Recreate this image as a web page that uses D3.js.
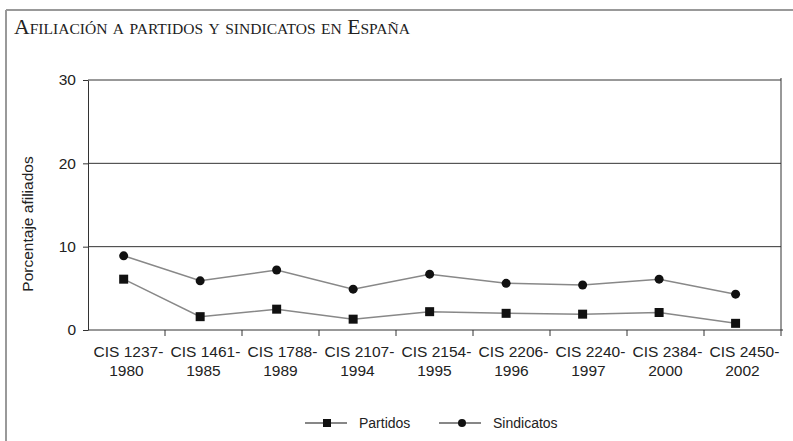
<!DOCTYPE html>
<html>
<head>
<meta charset="utf-8">
<script src="https://cdn.jsdelivr.net/npm/d3@7"></script>
<style>
  body { margin: 0; background: #fff; }
  svg { display: block; }
</style>
</head>
<body>
<svg id="chart" width="793" height="441"></svg>
<script>
const categories = ['CIS 1237-1980', 'CIS 1461-1985', 'CIS 1788-1989', 'CIS 2107-1994', 'CIS 2154-1995',
    'CIS 2206-1996', 'CIS 2240-1997', 'CIS 2384-2000', 'CIS 2450-2002'];
const partidos = [6.1, 1.6, 2.5, 1.3, 2.2, 2.0, 1.9, 2.1, 0.8];
const sindicatos = [8.9, 5.9, 7.2, 4.9, 6.7, 5.6, 5.4, 6.1, 4.3];
const yTicks = [0, 10, 20, 30];

const svg = d3.select('#chart');
const margin = { top: 80, right: 12, bottom: 111, left: 88 };
const innerWidth = 793 - margin.left - margin.right;
const innerHeight = 441 - margin.top - margin.bottom;

// outer frame (top and left only)
svg.append('line').attr('x1', 6).attr('x2', 793).attr('y1', 10).attr('y2', 10)
    .attr('stroke', '#999').attr('stroke-width', 2);
svg.append('line').attr('x1', 6).attr('x2', 6).attr('y1', 10).attr('y2', 441)
    .attr('stroke', '#999').attr('stroke-width', 2);

svg.append('text')
    .attr('x', 14).attr('y', 34)
    .attr('textLength', 396).attr('lengthAdjust', 'spacingAndGlyphs')
    .style('font-family', '"Liberation Serif", "DejaVu Serif", serif')
    .style('font-variant', 'small-caps')
    .style('font-size', '21px')
    .style('fill', '#222')
    .text('Afiliación a partidos y sindicatos en España');

const g = svg.append('g').attr('transform', `translate(${margin.left},${margin.top})`);

const x = d3.scaleBand().domain(categories).range([0, innerWidth]);
const xp = d3.scalePoint().domain(categories).range([0, innerWidth]).padding(0.53).align(0.44);
const y = d3.scaleLinear().domain([0, 30]).range([innerHeight, 0]);

// gridlines
g.selectAll('.grid').data(yTicks.slice(1)).enter().append('line')
    .attr('x1', 0).attr('x2', innerWidth)
    .attr('y1', d => y(d)).attr('y2', d => y(d))
    .attr('stroke', '#333').attr('stroke-width', 1);

// right border
g.append('line').attr('x1', innerWidth).attr('x2', innerWidth)
    .attr('y1', -2).attr('y2', innerHeight)
    .attr('stroke', '#333');

const font = '"Liberation Sans", Arial, Helvetica, sans-serif';

const yAxis = g.append('g').call(d3.axisLeft(y).tickValues(yTicks).tickSize(5).tickSizeOuter(0).tickPadding(7));
yAxis.select('.domain').attr('stroke', '#333');
yAxis.selectAll('line').attr('stroke', '#333');
yAxis.selectAll('text').style('font-family', font).style('font-size', '15.5px').style('fill', '#222');

const xAxis = g.append('g').attr('transform', `translate(0,${innerHeight})`)
    .call(d3.axisBottom(x).tickSize(0).tickFormat(''));
xAxis.select('.domain').attr('stroke', '#333').attr('d', `M0,0H${innerWidth + 2}`);

// ticks at band boundaries
g.selectAll('.xtick').data(categories.slice(1).concat(['end'])).enter().append('line')
    .attr('x1', d => d === 'end' ? innerWidth : x(d))
    .attr('x2', d => d === 'end' ? innerWidth : x(d))
    .attr('y1', innerHeight).attr('y2', innerHeight + 6)
    .attr('stroke', '#333');

const labels = g.selectAll('.xlab').data(categories).enter().append('text')
    .attr('x', d => x(d) + x.bandwidth() / 2)
    .attr('y', innerHeight + 27)
    .attr('text-anchor', 'middle')
    .style('font-family', font).style('font-size', '15.5px').style('fill', '#222');
labels.append('tspan').attr('x', d => x(d) + x.bandwidth() / 2 + 2).text(d => d.split('-')[0] + '-');
labels.append('tspan').attr('x', d => x(d) + x.bandwidth() / 2).attr('dy', 19).text(d => d.split('-')[1]);

g.append('text')
    .attr('transform', `translate(-55,${innerHeight / 2 + 19}) rotate(-90)`)
    .attr('text-anchor', 'middle')
    .style('font-family', font).style('font-size', '15.5px').style('fill', '#222')
    .text('Porcentaje afiliados');

const line = d3.line().x((d, i) => xp(categories[i])).y(d => y(d));

[partidos, sindicatos].forEach(vals => {
    g.append('path').datum(vals)
        .attr('d', line)
        .attr('fill', 'none')
        .attr('stroke', '#888')
        .attr('stroke-width', 1.5);
});

g.selectAll('.sq').data(partidos).enter().append('rect')
    .attr('x', (d, i) => xp(categories[i]) - 4.5)
    .attr('y', d => y(d) - 4.5)
    .attr('width', 9).attr('height', 9)
    .attr('fill', '#111');

g.selectAll('.dot').data(sindicatos).enter().append('circle')
    .attr('cx', (d, i) => xp(categories[i]))
    .attr('cy', d => y(d))
    .attr('r', 4.5)
    .attr('fill', '#111');

// legend
const legend = svg.append('g').attr('transform', 'translate(0,423)');
const items = [
    { name: 'Partidos', x0: 305, shape: 'rect' },
    { name: 'Sindicatos', x0: 439, shape: 'circle' }
];
items.forEach(it => {
    legend.append('line').attr('x1', it.x0).attr('x2', it.x0 + 42).attr('y1', 0).attr('y2', 0)
        .attr('stroke', '#111').attr('stroke-width', 1.2);
    if (it.shape === 'rect') {
        legend.append('rect').attr('x', it.x0 + 18).attr('y', -4).attr('width', 8).attr('height', 8).attr('fill', '#111');
    } else {
        legend.append('circle').attr('cx', it.x0 + 23).attr('cy', 0).attr('r', 4).attr('fill', '#111');
    }
    legend.append('text').attr('x', it.x0 + 54).attr('y', 5)
        .style('font-family', font).style('font-size', '14px').style('fill', '#222')
        .text(it.name);
});
</script>
</body>
</html>
